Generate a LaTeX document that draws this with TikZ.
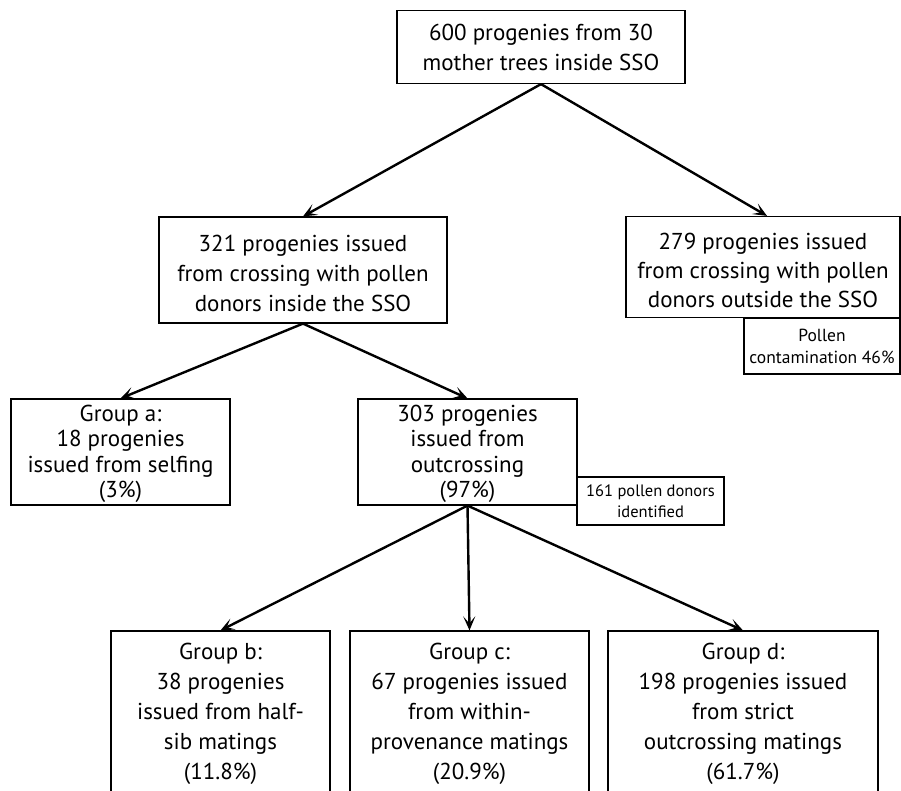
\documentclass[tikz,border=0pt]{standalone}
\usepackage{fontspec}
\setmainfont{PT Sans}
\usetikzlibrary{arrows.meta}
\begin{document}
\begin{tikzpicture}[x=1pt,y=-1pt,
  box/.style={draw, line width=1.2pt, inner sep=0pt, align=center, font=\fontsize{23}{30}\selectfont},
  frame/.style={draw, line width=1.2pt, inner sep=0pt},
  txt/.style={inner sep=0pt, align=center},
  smallbox/.style={draw, line width=1.2pt, inner sep=0pt, align=center, font=\fontsize{16.5}{21}\selectfont},
  arr/.style={line width=2.4pt, -{Stealth[length=14pt,width=12pt,inset=7pt]}}
]
\path[use as bounding box, clip] (0,0) rectangle (901,791);
\fill[white] (0,0) rectangle (901,791);

\node[box, minimum width=288pt, minimum height=73pt] (top) at (541,47)
  {600 progenies from 30\\mother trees inside SSO};
\node[frame, minimum width=288pt, minimum height=106pt] (in) at (303,270) {};
\node[txt, font=\fontsize{23}{30}\selectfont] (in-t) at ([yshift=-3pt]in.center)
  {321 progenies issued\\from crossing with pollen\\donors inside the SSO};
\node[frame, minimum width=274pt, minimum height=101pt] (out) at (763,267) {};
\node[txt, font=\fontsize{23}{29}\selectfont] (out-t) at ([yshift=-3pt]out.center)
  {279 progenies issued\\from crossing with pollen\\donors outside the SSO};
\node[smallbox, font=\fontsize{17.5}{22}\selectfont, minimum width=156pt, minimum height=56pt] (cont) at (822,346)
  {Pollen\\contamination 46\%};

\node[frame, minimum width=219pt, minimum height=106pt] (ga) at (120.5,452) {};
\node[txt, font=\fontsize{23}{25.5}\selectfont] (ga-t) at ([yshift=-2pt]ga.center)
  {Group a:\\18 progenies\\issued from selfing\\(3\%)};
\node[frame, minimum width=219pt, minimum height=106pt] (out3) at (467.5,452) {};
\node[txt, font=\fontsize{23}{25.5}\selectfont] (out3-t) at ([yshift=-2pt]out3.center)
  {303 progenies\\issued from\\outcrossing\\(97\%)};
\node[smallbox, minimum width=147pt, minimum height=48pt] (donors) at (650.5,501)
  {161 pollen donors\\identified};

\node[box, font=\fontsize{23}{30}\selectfont, minimum width=219pt, minimum height=166pt] (gb) at (220.5,714)
  {Group b:\\38 progenies\\issued from half-\\sib matings\\(11.8\%)};
\node[box, font=\fontsize{23}{30}\selectfont, minimum width=239pt, minimum height=166pt] (gc) at (469.5,714)
  {Group c:\\67 progenies issued\\from within-\\provenance matings\\(20.9\%)};
\node[box, font=\fontsize{23}{30}\selectfont, minimum width=270pt, minimum height=166pt] (gd) at (743,714)
  {Group d:\\198 progenies issued\\from strict\\outcrossing matings\\(61.7\%)};

\draw[arr] (top.south) -- (in.north);
\draw[arr] (top.south) -- ([xshift=4pt]out.north);
\draw[arr] (in.south) -- (ga.north);
\draw[arr] (in.south) -- (out3.north);
\draw[arr] (out3.south) -- (gb.north);
\draw[arr] (out3.south) -- (gc.north);
\draw[arr] (out3.south) -- (gd.north);
\end{tikzpicture}
\end{document}
